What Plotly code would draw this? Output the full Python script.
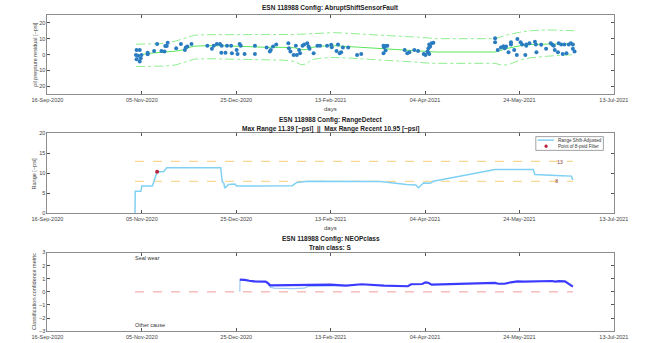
import numpy as np
import pandas as pd
import plotly.graph_objects as go

# ---------------------------------------------------------------- data
START = pd.Timestamp("2020-09-16")
TICK_DAYS = [0, 50, 100, 150, 200, 250, 300]

# residual samples (days since start, residual ~psi)
resid_days = [47.2, 48.9, 46.9, 48.0, 49.8, 47.2, 49.4, 48.9, 53.1, 53.1, 56.5, 58.1, 60.4, 62.0,
              62.4, 63.7, 63.2, 68.2, 70.7, 72.8, 73.3, 74.1, 76.3, 84.7, 87.1, 88.1, 89.7, 91.4,
              92.3, 92.1, 94.3, 95.1, 97.3, 97.7, 100.2, 100.7, 101.8, 102.4, 104.4, 109.9, 109.9,
              116.1, 117.8, 118.3, 119.5, 121.2, 127.6, 127.9, 128.7, 130.4, 131.6, 132.1, 133.8,
              133.3, 135.1, 136.0, 137.6, 138.3, 138.8, 141.0, 143.0, 144.4, 148.1, 150.3, 150.6,
              153.9, 153.1, 154.8, 155.6, 156.5, 159.3, 164.0, 166.2, 178.0, 178.3, 179.1, 180.0,
              178.0, 179.1, 189.2, 190.6, 191.7, 194.3, 196.3, 199.3, 200.2, 201.3, 201.8, 202.7,
              202.2, 203.5, 204.4, 201.5, 202.2, 237.1, 237.1, 238.5, 240.2, 241.4, 242.2, 244.2,
              245.5, 245.5, 247.2, 248.9, 250.6, 251.4, 253.1, 253.6, 253.6, 255.3, 258.2, 259.0,
              258.7, 261.5, 264.1, 266.6, 267.4, 268.2, 268.7, 270.4, 270.8, 272.1, 272.9, 273.8,
              274.9, 276.1, 277.2, 278.3, 278.3, 279.2, 248.6, 241.6, 242.9]
resid_vals = [2.9, 2.9, -0.2, -0.8, -0.2, -2.9, -2.3, -4.4, 1.2, 0.2, 2.3, 6.7, 2.3, 1.9,
              5.4, 7.5, 5.4, 3.9, 6.7, 2.9, 4.4, 5.0, 6.7, 5.6, 3.6, 5.6, 6.7, 6.7,
              5.6, 1.2, 1.2, 5.6, 5.6, 0.8, 2.9, 0.4, 6.7, 5.6, 0.4, 5.6, 0.4,
              4.4, 1.9, 2.9, 5.0, 6.4, 7.1, 3.9, 1.9, -0.2, 5.6, -0.2, 0.8,
              2.9, 5.6, 6.4, 7.1, 5.0, 3.6, 0.8, 5.6, 5.6, 5.6, 6.1, 4.6,
              6.4, 2.3, 0.8, 1.4, 4.4, 4.4, -0.2, 0.4, 5.6, 4.6, 5.4, 5.6,
              0.8, 2.5, 2.9, 0.8, 1.4, 2.9, 2.3, 0.4, -0.2, 1.9, 3.9, 5.0,
              6.4, 7.1, 7.5, 1.4, 0.4, 10.2, 7.7, 2.9, 4.4, 5.0, 3.9, 1.4,
              7.7, 6.4, 2.9, 9.8, 7.7, 6.4, -0.2, 6.4, 5.6, 7.1, 8.1, 1.4,
              6.4, 6.1, 3.6, 7.1, 6.1, 5.6, 2.9, 1.4, 7.1, 6.4, 0.4, 6.4,
              0.8, 6.4, 7.1, 6.4, 3.6, 1.9, -0.2, 5.0, 5.0]

# fitted centre line and confidence bounds
fit_days = [47, 49, 52, 56, 62, 68, 72, 75, 78, 85, 95, 105, 115, 125, 131, 134, 137, 140, 145,
            152, 160, 170, 180, 190, 196, 202, 206, 237, 240, 244, 250, 256, 265, 279]
fit_mid = [-1.0, -0.5, 0.5, 1.0, 1.5, 2.2, 3.0, 4.5, 5.3, 5.6, 5.5, 5.0, 4.6, 4.5, 4.3, 3.0, 3.2,
           4.5, 5.3, 5.6, 5.0, 4.3, 3.8, 3.0, 2.6, 1.8, 1.6, 1.6, 2.8, 4.0, 5.5, 6.3, 6.6, 6.8]
fit_upper = [6.5, 6.6, 6.6, 6.6, 7.0, 8.5, 10.0, 11.5, 12.2, 12.5, 12.5, 12.4, 12.3, 12.4, 12.6,
             12.8, 13.0, 13.3, 13.6, 13.8, 13.3, 12.5, 12.0, 11.3, 11.0, 10.2, 10.0, 10.0, 11.0,
             12.5, 14.0, 15.0, 15.5, 15.0]
fit_lower = [-7.5, -7.5, -7.4, -7.4, -7.2, -6.5, -5.0, -3.5, -2.8, -2.6, -2.8, -3.0, -3.2, -3.5,
             -4.2, -6.3, -6.0, -3.2, -2.2, -1.8, -2.2, -2.8, -3.4, -4.3, -4.8, -5.4, -5.5, -5.5,
             -6.4, -6.5, -3.5, -2.0, -1.0, 0.0]

# shift-adjusted range (~psi)
range_days = [46.4, 46.5, 49.5, 50.0, 55.6, 58.1, 61.5, 63.2, 91.8, 92.6, 93.4, 93.9, 96.0, 99.3,
              100.2, 129.6, 132.1, 138.0, 176.5, 182.0, 190.1, 195.1, 196.5, 199.2, 202.7, 204.4,
              237.1, 257.3, 258.2, 272.3, 277.5, 278.3]
range_vals = [0.0, 5.5, 5.5, 6.8, 6.8, 10.4, 10.4, 11.39, 11.39, 7.9, 7.6, 6.3, 7.2, 7.3,
              6.8, 6.9, 7.7, 8.0, 7.95, 7.6, 7.2, 7.1, 6.4, 7.6, 7.5, 8.0,
              10.95, 10.95, 9.7, 9.4, 9.3, 8.3]
filter_day = [58.1]
filter_val = [10.4]
range_limits = [13, 8]
max_range = 11.39
max_range_recent = 10.95
legend_names = ["Range Shift-Adjusted", "Point of 8-psid Filter"]

# classification confidence metric
conf_days = [101.9, 104.4, 106.9, 109.4, 115.5, 116.5, 118.0, 149.8, 158.2, 166.4, 178.3, 190.9,
             192.6, 198.5, 200.2, 201.7, 203.5, 220.3, 237.0, 238.8, 242.0, 245.5, 248.9, 252.1,
             262.2, 267.2, 269.1, 270.8, 274.1, 275.8, 278.3]
conf_vals = [0.93, 0.92, 0.85, 0.80, 0.78, 0.70, 0.50, 0.55, 0.48, 0.58, 0.48, 0.43,
             0.58, 0.60, 0.73, 0.70, 0.55, 0.60, 0.68, 0.62, 0.62, 0.73, 0.80, 0.78,
             0.85, 0.83, 0.78, 0.82, 0.80, 0.62, 0.40]
raw_days = [101.9, 102.0, 104.4, 106.9, 109.4, 115.5, 116.5, 118.0, 120.0, 130.0, 136.0, 138.0,
            144.0, 150.0, 158.2]
raw_vals = [0.0, 0.90, 0.92, 0.85, 0.80, 0.78, 0.70, 0.35, 0.28, 0.25, 0.28, 0.42,
            0.44, 0.50, 0.48]
span_days = [46.4, 278.3]


def to_dates(days):
    return START + pd.to_timedelta(np.asarray(days, dtype=float), unit="D")


# ---------------------------------------------------------------- figure
W, H = 646, 343
FONT = "Liberation Sans, Arial, sans-serif"
AX = "#8c8c8c"
RANGE_COLOR = "#7fd0f2"
FILTER_COLOR = "#b8283c"

fig = go.Figure()

fig.add_trace(go.Scatter(x=to_dates(fit_days), y=fit_upper, mode="lines",
                         line=dict(color="#8fef8f", width=1, dash="dashdot"),
                         xaxis="x", yaxis="y"))
fig.add_trace(go.Scatter(x=to_dates(fit_days), y=fit_lower, mode="lines",
                         line=dict(color="#8fef8f", width=1, dash="dashdot"),
                         xaxis="x", yaxis="y"))
fig.add_trace(go.Scatter(x=to_dates(fit_days), y=fit_mid, mode="lines",
                         line=dict(color="#5ae65a", width=1),
                         xaxis="x", yaxis="y"))
fig.add_trace(go.Scatter(x=to_dates(resid_days), y=resid_vals, mode="markers",
                         marker=dict(color="#2a7cc0", size=4),
                         xaxis="x", yaxis="y"))

for lim in range_limits:
    fig.add_trace(go.Scatter(x=to_dates(span_days), y=[lim, lim], mode="lines",
                             line=dict(color="#f6cf7a", width=1, dash="dash"),
                             xaxis="x2", yaxis="y2"))
fig.add_trace(go.Scatter(x=to_dates(range_days), y=range_vals, mode="lines",
                         name=legend_names[0],
                         line=dict(color=RANGE_COLOR, width=1.5),
                         xaxis="x2", yaxis="y2"))
fig.add_trace(go.Scatter(x=to_dates(filter_day), y=filter_val, mode="markers",
                         name=legend_names[1],
                         marker=dict(color=FILTER_COLOR, size=4),
                         xaxis="x2", yaxis="y2"))
fig.add_trace(go.Scatter(x=to_dates([271.5, 269.7]), y=[12.7, 7.8], mode="text",
                         text=[str(v) for v in range_limits],
                         textfont=dict(family=FONT, size=5, color="#8b3a3a"),
                         xaxis="x2", yaxis="y2"))

fig.add_trace(go.Scatter(x=to_dates(span_days), y=[0, 0], mode="lines",
                         line=dict(color="#f49a9a", width=1, dash="dash"),
                         xaxis="x3", yaxis="y3"))
fig.add_trace(go.Scatter(x=to_dates(raw_days), y=raw_vals, mode="lines",
                         line=dict(color="#9ccaf5", width=1.2),
                         xaxis="x3", yaxis="y3"))
fig.add_trace(go.Scatter(x=to_dates(conf_days), y=conf_vals, mode="lines",
                         line=dict(color="#3b3bff", width=2.2),
                         xaxis="x3", yaxis="y3"))
fig.add_trace(go.Scatter(x=to_dates([46.4, 46.4]), y=[2.5, -2.55], mode="text",
                         text=["Seal wear", "Other cause"], textposition="middle right",
                         textfont=dict(family=FONT, size=5.5, color="#333333"),
                         xaxis="x3", yaxis="y3"))

x0, x1 = 33 / W, 628 / W
doms = {"": (1 - 93 / H, 1 - 12 / H),
        "2": (1 - 214 / H, 1 - 132.7 / H),
        "3": (1 - 334 / H, 1 - 254 / H)}
yranges = {"": [-25, 25], "2": [0, 20], "3": [-3, 3]}
ydticks = {"": 10, "2": 5, "3": 1}
tickvals = list(to_dates(TICK_DAYS))

layout = dict(width=W, height=H, margin=dict(l=0, r=0, t=0, b=0),
              paper_bgcolor="white", plot_bgcolor="white", showlegend=False,
              font=dict(family=FONT, size=6, color="#444444"))
for k in ["", "2", "3"]:
    layout["xaxis" + k] = dict(domain=[x0, x1], anchor="y" + k,
                               range=[tickvals[0], tickvals[-1]],
                               tickvals=tickvals, tickformat="%d-%b-%Y",
                               ticks="inside", ticklen=3, tickcolor="#555555",
                               showline=True, linecolor=AX, linewidth=1, mirror="ticks",
                               showgrid=False, zeroline=False,
                               tickfont=dict(size=5.5, color="#444444"))
    layout["yaxis" + k] = dict(domain=list(doms[k]), anchor="x" + k,
                               range=yranges[k], dtick=ydticks[k],
                               ticks="inside", ticklen=3, tickcolor="#555555",
                               showline=True, linecolor=AX, linewidth=1, mirror="ticks",
                               showgrid=False, zeroline=False,
                               tickfont=dict(size=5.5, color="#444444"))
fig.update_layout(**layout)

# compact legend box for the range panel
lx0, lx1, ly0, ly1 = 546, 617, 136, 150
fig.add_shape(type="rect", xref="paper", yref="paper",
              x0=lx0 / W, x1=lx1 / W, y0=1 - ly1 / H, y1=1 - ly0 / H,
              line=dict(color="#8c8c8c", width=0.8), fillcolor="white", layer="above")
fig.add_shape(type="line", xref="paper", yref="paper",
              x0=548 / W, x1=565 / W, y0=1 - 139.6 / H, y1=1 - 139.6 / H,
              line=dict(color=RANGE_COLOR, width=1.5), layer="above")
fig.add_shape(type="circle", xref="paper", yref="paper",
              x0=555.3 / W, x1=558.3 / W, y0=1 - 147.3 / H, y1=1 - 144.3 / H,
              line=dict(color=FILTER_COLOR, width=0.5), fillcolor=FILTER_COLOR, layer="above")
for i, name in enumerate(legend_names):
    fig.add_annotation(text=name, x=567 / W, y=1 - (139.6 + 6.2 * i) / H,
                       xref="paper", yref="paper", showarrow=False,
                       xanchor="left", yanchor="middle",
                       font=dict(family=FONT, size=4.6, color="#333333"))

xc = (33 + 628) / 2 / W


def note(text, xp, yp, size=6.5, bold=True, angle=0, color="#222222"):
    t = f"<b>{text}</b>" if bold else text
    fig.add_annotation(text=t, x=xp, y=1 - yp / H, xref="paper", yref="paper",
                       showarrow=False, textangle=angle, xanchor="center", yanchor="middle",
                       font=dict(family=FONT, size=size, color=color))


note("ESN 118988 Config: AbruptShiftSensorFault", xc, 5.5)
note("ESN 118988 Config: RangeDetect", xc, 119)
note(f"Max Range {max_range:.2f} [~psi]  ||  Max Range Recent {max_range_recent:.2f} [~psi]", xc, 128)
note("ESN 118988 Config: NEOPclass", xc, 240.5)
note("Train class: S", xc, 248.5)
note("days", xc, 108, size=6, bold=False, color="#444444")
note("days", xc, 229, size=6, bold=False, color="#444444")
note("oil pressure residual [~psi]", 19 / W, (12 + 93) / 2, size=5.5, bold=False, angle=-90, color="#444444")
note("Range [~psi]", 19 / W, (132.7 + 214) / 2, size=5.5, bold=False, angle=-90, color="#444444")
note("Classification confidence metric", 19 / W, (254 + 334) / 2, size=5.5, bold=False, angle=-90, color="#444444")

fig.write_html("out.html")
